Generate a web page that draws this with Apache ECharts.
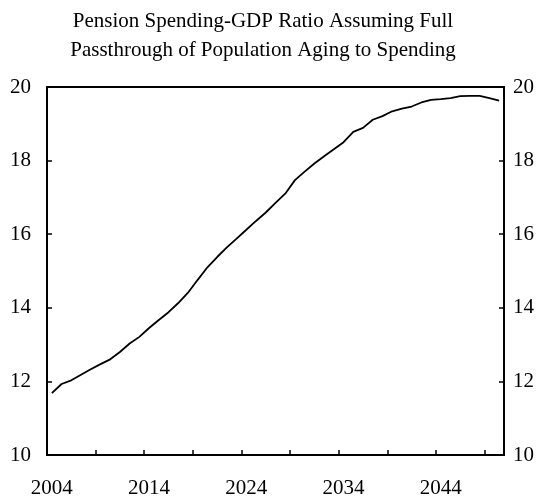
<!DOCTYPE html>
<html>
<head>
<meta charset="utf-8">
<script src="https://cdn.jsdelivr.net/npm/echarts@6/dist/echarts.min.js"></script>
<style>
  html, body { margin: 0; padding: 0; background: #fff; }
  #chart { width: 544px; height: 499px; }
</style>
</head>
<body>
<div id="chart"></div>
<script>
// years on the x axis
const years = [];
for (let y = 2004; y <= 2050; y++) years.push(String(y));

// pension spending / GDP ratio
const ratio = [
  11.68, 11.93, 12.03, 12.18, 12.33, 12.47, 12.60, 12.80, 13.03, 13.21,
  13.45, 13.67, 13.88, 14.13, 14.41, 14.76, 15.10, 15.38, 15.64, 15.88,
  16.12, 16.36, 16.59, 16.85, 17.10, 17.47, 17.70, 17.92, 18.12, 18.31,
  18.50, 18.78, 18.89, 19.11, 19.21, 19.34, 19.41, 19.47, 19.58, 19.65,
  19.67, 19.70, 19.75, 19.76, 19.76, 19.70, 19.63
];

const titleLines = [
  'Pension Spending-GDP Ratio Assuming Full',
  'Passthrough of Population Aging to Spending'
];

const font = '"Liberation Serif", "Times New Roman", serif';

const chart = echarts.init(document.getElementById('chart'));

const yAxisBase = (pos) => ({
  type: 'value',
  position: pos,
  min: 10,
  max: 20,
  interval: 2,
  axisLine: { show: true, lineStyle: { color: '#000', width: 2 } },
  axisTick: { show: true, inside: true, length: 5, lineStyle: { color: '#000', width: 1.5 } },
  axisLabel: {
    color: '#000',
    fontFamily: font,
    fontSize: 21,
    margin: pos === 'left' ? 16 : 9
  },
  splitLine: { show: false }
});

chart.setOption({
  animation: false,
  title: {
    text: titleLines.join('\n'),
    left: 258,
    top: 2,
    textAlign: 'center',
    textStyle: {
      color: '#000',
      fontFamily: font,
      fontSize: 21,
      fontWeight: 'normal',
      lineHeight: 29
    }
  },
  grid: {
    left: 47,
    right: 40,
    top: 87,
    bottom: 42,
    show: true,
    borderColor: '#000',
    borderWidth: 2,
    backgroundColor: 'transparent'
  },
  xAxis: {
    type: 'category',
    data: years,
    boundaryGap: true,
    axisLine: { show: true, lineStyle: { color: '#000', width: 2 } },
    axisTick: { show: true, inside: true, length: 5, interval: 4, lineStyle: { color: '#000', width: 1.5 } },
    axisLabel: {
      interval: 9,
      color: '#000',
      fontFamily: font,
      fontSize: 21,
      margin: 23
    },
    splitLine: { show: false }
  },
  yAxis: [yAxisBase('left'), yAxisBase('right')],
  series: [
    {
      type: 'line',
      data: ratio,
      showSymbol: false,
      lineStyle: { color: '#000', width: 1.8 },
      yAxisIndex: 0
    }
  ]
});
</script>
</body>
</html>
